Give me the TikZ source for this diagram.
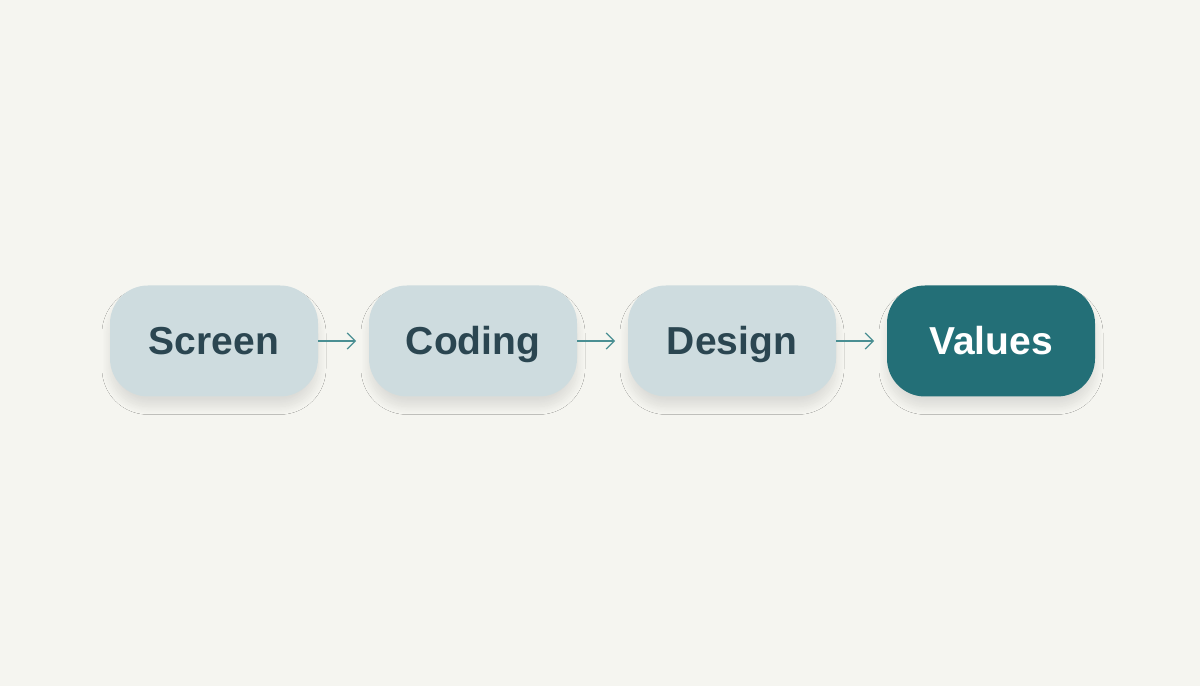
\documentclass[tikz,border=0pt]{standalone}
\usepackage{fontspec}
\setmainfont{Liberation Sans}
\usetikzlibrary{positioning,arrows.meta,shadows.blur}
\definecolor{bgcol}{HTML}{F5F5F0}
\definecolor{stepfill}{HTML}{CEDCDF}
\definecolor{steptext}{HTML}{2B4651}
\definecolor{goalfill}{HTML}{236F77}
\definecolor{linkcol}{HTML}{4A8F93}
\tikzset{
  stepbox/.style={rounded corners=19pt, minimum width=104pt, minimum height=55.5pt,
    outer sep=0pt, text height=18pt, text depth=4pt,
    fill=stepfill, text=steptext, font=\fontsize{19.5}{23}\selectfont\bfseries,
    blur shadow={shadow xshift=0pt, shadow yshift=-5pt, shadow blur radius=4pt,
      shadow blur steps=16, shadow opacity=10}},
  goalbox/.style={stepbox, fill=goalfill, text=white},
  link/.style={-{Straight Barb[length=4pt,width=8pt]}, linkcol, line width=0.6pt, shorten >=6.5pt}
}
\begin{document}
\begin{tikzpicture}
\fill[bgcol] (0,0) rectangle (600pt,343pt);
\useasboundingbox (0,0) rectangle (600pt,343pt);
\node[stepbox] (screen) at (107pt,172.5pt) {Screen};
\node[stepbox, right=25.5pt of screen] (coding) {Coding};
\node[stepbox, right=25.5pt of coding] (design) {Design};
\node[goalbox, right=25.5pt of design] (values) {Values};
\draw[link] (screen) -- (coding);
\draw[link] (coding) -- (design);
\draw[link] (design) -- (values);
\end{tikzpicture}
\end{document}
